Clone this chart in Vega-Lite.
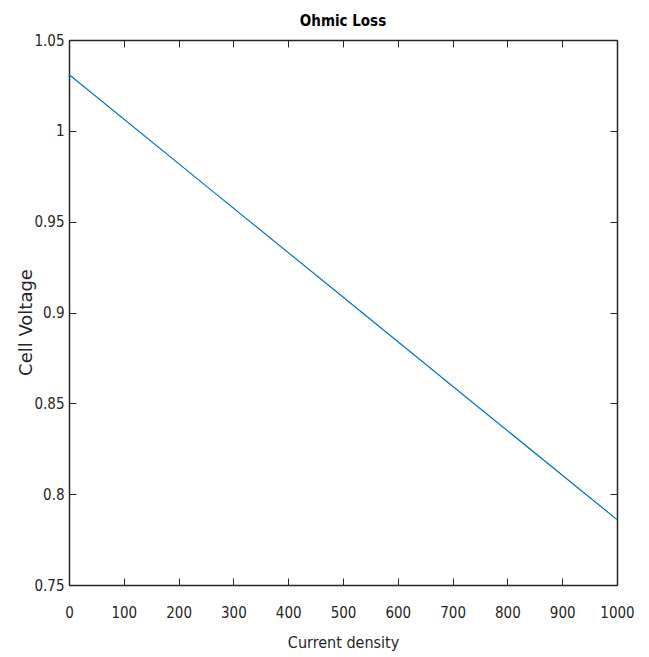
{
  "$schema": "https://vega.github.io/schema/vega-lite/v6.json",
  "width": 548,
  "height": 545,
  "autosize": {"type": "none"},
  "padding": {"left": 69, "top": 40, "right": 32, "bottom": 72},
  "background": "white",
  "title": {"text": "Ohmic Loss", "font": "DejaVu Sans Condensed", "fontSize": 15, "fontWeight": "bold", "color": "#000000", "offset": 4},
  "config": {"view": {"stroke": null}},
  "data": {"values": [
    {"current": 0, "voltage": 1.0310},
    {"current": 250, "voltage": 0.9697},
    {"current": 500, "voltage": 0.9085},
    {"current": 750, "voltage": 0.8472},
    {"current": 1000, "voltage": 0.7860}
  ]},
  "resolve": {"axis": {"x": "independent", "y": "independent"}},
  "layer": [
    {
      "mark": {"type": "line", "color": "#0072BD", "strokeWidth": 1.2},
      "encoding": {
        "x": {"field": "current", "type": "quantitative",
          "scale": {"domain": [0, 1000], "nice": false, "zero": false},
          "axis": {"title": "Current density", "orient": "bottom", "values": [0,100,200,300,400,500,600,700,800,900,1000], "format": "d",
            "labelOverlap": false, "labelFlush": false,
            "grid": false, "domainColor": "#262626", "domainWidth": 1.5, "tickColor": "#262626", "tickWidth": 1, "tickSize": -7,
            "labelPadding": 27, "labelFont": "DejaVu Sans Condensed", "labelFontSize": 15, "labelColor": "#262626",
            "titleFont": "DejaVu Sans Condensed", "titleFontSize": 16, "titleFontWeight": "normal", "titleColor": "#262626", "titlePadding": 14}},
        "y": {"field": "voltage", "type": "quantitative",
          "scale": {"domain": [0.75, 1.05], "nice": false, "zero": false},
          "axis": {"title": "Cell Voltage", "orient": "left", "values": [0.75,0.8,0.85,0.9,0.95,1,1.05], "format": "~g",
            "labelOverlap": false, "labelFlush": false,
            "grid": false, "domainColor": "#262626", "domainWidth": 1.5, "tickColor": "#262626", "tickWidth": 1, "tickSize": -7,
            "labelPadding": 12, "labelFont": "DejaVu Sans Condensed", "labelFontSize": 15, "labelColor": "#262626",
            "titleFont": "DejaVu Sans", "titleFontSize": 18, "titleFontWeight": "normal", "titleColor": "#262626", "titlePadding": -2, "titleY": 282}}
      }
    },
    {
      "mark": {"type": "line", "opacity": 0},
      "encoding": {
        "x": {"field": "current", "type": "quantitative",
          "scale": {"domain": [0, 1000], "nice": false, "zero": false},
          "axis": {"title": null, "orient": "top", "values": [0,100,200,300,400,500,600,700,800,900,1000], "labels": false,
            "grid": false, "domainColor": "#262626", "domainWidth": 1.5, "tickColor": "#262626", "tickWidth": 1, "tickSize": -7}},
        "y": {"field": "voltage", "type": "quantitative",
          "scale": {"domain": [0.75, 1.05], "nice": false, "zero": false},
          "axis": {"title": null, "orient": "right", "values": [0.75,0.8,0.85,0.9,0.95,1,1.05], "labels": false,
            "grid": false, "domainColor": "#262626", "domainWidth": 1.5, "tickColor": "#262626", "tickWidth": 1, "tickSize": -7}}
      }
    }
  ]
}
